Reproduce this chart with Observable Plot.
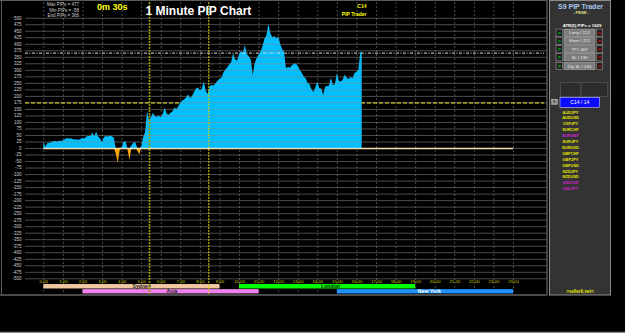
<!DOCTYPE html>
<html><head><meta charset="utf-8">
<script src="https://cdn.jsdelivr.net/npm/d3@7"></script>
<script src="https://cdn.jsdelivr.net/npm/@observablehq/plot@0.6"></script>
<style>
html,body{margin:0;padding:0;background:#000;}
#chart{position:relative;width:625px;height:333px;overflow:hidden;background:#000;}
svg{display:block;}
</style></head><body><div id="chart"></div>
<script>
// ---- data (hours since 0:00, PIPs) ----
const hours = [0.0,0.1,0.2,0.3,0.4,0.5,0.6,0.7,0.8,0.9,1.0,1.1,1.2,1.3,1.4,1.5,1.6,1.7,1.8,1.9,
 2.0,2.1,2.2,2.3,2.4,2.5,2.6,2.7,2.8,2.9,3.0,3.1,3.2,3.3,3.4,3.5,3.6,3.7,3.8,3.9,
 4.0,4.1,4.2,4.3,4.4,4.5,4.6,4.7,4.8,4.9,5.0,5.1,5.2,5.3,5.4,5.5,5.6,5.7,5.8,5.9,
 6.0,6.1,6.2,6.3,6.4,6.5,6.6,6.7,6.8,6.9,7.0,7.1,7.2,7.3,7.4,7.5,7.6,7.7,7.8,7.9,
 8.0,8.1,8.2,8.3,8.4,8.5,8.6,8.7,8.8,8.9,9.0,9.1,9.2,9.3,9.4,9.5,9.6,9.7,9.8,9.9,
 10.0,10.1,10.2,10.3,10.4,10.5,10.6,10.7,10.8,10.9,11.0,11.1,11.2,11.3,11.4,11.5,11.6,11.7,11.8,11.9,
 12.0,12.1,12.2,12.3,12.4,12.5,12.6,12.7,12.8,12.9,13.0,13.1,13.2,13.3,13.4,13.5,13.6,13.7,13.8,13.9,
 14.0,14.1,14.2,14.3,14.4,14.5,14.6,14.7,14.8,14.9,15.0,15.1,15.2,15.3,15.4,15.5,15.6,15.7,15.8,15.9,
 16.0,16.1,16.2,16.27];
const pips = [24,5,18,20,22,26,27,25,28,27,30,34,38,36,37,35,33,34,32,35,
 38,36,44,46,46,59,46,62,44,36,22,42,46,44,47,45,40,-20,-58,-10,
 2,24,26,-5,-46,10,20,22,-10,-24,5,40,60,141,108,118,135,122,120,125,
 118,130,154,132,128,135,140,155,150,160,175,182,186,195,205,192,200,215,228,232,
 222,228,255,220,207,238,242,240,248,258,265,270,290,300,310,320,330,364,340,335,
 360,372,365,395,360,352,340,280,325,345,358,370,390,420,432,477,440,425,430,420,
 428,400,380,370,305,312,308,318,322,325,315,300,290,275,268,250,245,225,215,232,
 255,230,228,203,235,238,240,270,242,245,288,258,255,262,282,270,265,272,268,288,
 292,300,370,366];

const hourTicks = [0,1,2,3,4,5,6,7,8,9,10,11,12,13,14,15,16,17,18,19,20,21,22,23,24];
const hourLabels = ["0:00","1:00","2:00","3:00","4:00","5:00","6:00","7:00","8:00","9:00","10:00","11:00","12:00",
 "13:00","14:00","15:00","16:00","17:00","18:00","19:00","20:00","21:00","22:00","23:00","23:00"];
const yTicks = [-500,-475,-450,-425,-400,-375,-350,-325,-300,-275,-250,-225,-200,-175,-150,-125,-100,-75,-50,-25,
 0,25,50,75,100,125,150,175,200,225,250,275,300,325,350,375,400,425,450,475,500];

const sessionNames = ["Sydney","Asia","London","New York"];
const sessionStart = [0,2,10,15];
const sessionEnd   = [9,11,19,24];
const sessionRow   = [0,1,0,1];
const sessionLabelAt = [5.0,6.55,14.65,19.7];
const sessionFill  = ["#f0c8a0","#ee82ee","#00ff00","#1e90ff"];
const sessionInk   = ["#222","#222","#111","#fff"];

const levelLine = 175;            // yellow dashed level
const markerHours = [5.4, 8.43];  // yellow dotted verticals
const markerColors = ["#9c9c00","#d6d600"];

const buttonLabels = ["Long / 212","Short / 212","TP / 407","SL / 130","Dly SL / 244"];
const pairNames = ["AUDJPY","AUDUSD","CHFJPY","EURCHF","EURGBP","EURJPY","EURUSD","GBPCHF","GBPJPY","GBPUSD","NZDJPY","NZDUSD","USDCHF","USDJPY"];
const pairColors = ["#e6e600","#e6e600","#e6e600","#e6e600","#d020d0","#e6e600","#e6e600","#e6e600","#e6e600","#e6e600","#e6e600","#e6e600","#d020d0","#d020d0"];

// ---- build ----
const data = hours.map((h,i)=>({h, v:pips[i]}));
const maxP = d3.max(pips), minP = d3.min(pips), endP = pips[pips.length-1];

const W = 625, H = 333;
const gridL = -0.935, gridR = 25.74;   // grid extents in hours
const vTop = 560, vBot = -564;         // vertical grid extents in PIPs
const sessY = [[-522,-539],[-541.5,-558]];
const FONT = "Liberation Sans, Arial, sans-serif";

const plot = Plot.plot({
  width: W, height: H,
  marginLeft: 43.3, marginRight: W - 513, marginTop: 17.7, marginBottom: H - 278.3,
  x: {domain: [0,24], axis: null},
  y: {domain: [-500,500], axis: null},
  style: {background: "#000", fontFamily: FONT, overflow: "visible"},
  marks: [
    Plot.ruleX(hourTicks, {x: d=>d, y1: vTop, y2: vBot, stroke: "#8a8a8a", strokeOpacity: 0.55, strokeDasharray: "2,2"}),
    Plot.rect(sessionNames, {x1: (d,i)=>sessionStart[i], x2: (d,i)=>sessionEnd[i],
      y1: (d,i)=>sessY[sessionRow[i]][0], y2: (d,i)=>sessY[sessionRow[i]][1], fill: (d,i)=>sessionFill[i]}),
    Plot.text(sessionNames, {x: (d,i)=>sessionLabelAt[i], y: (d,i)=>(sessY[sessionRow[i]][0]+sessY[sessionRow[i]][1])/2,
      text: d=>d, fill: (d,i)=>sessionInk[i], fontSize: 5.2, fontWeight: "bold"}),
    Plot.ruleY([levelLine], {x1: gridL, x2: gridR - 0.15, stroke: "#e0e000", strokeWidth: 1.1, strokeDasharray: "4,2"}),
    Plot.areaY(data, {x: "h", y1: 0, y2: d=>Math.max(0,d.v), fill: "#00bfff"}),
    Plot.areaY(data, {x: "h", y1: 0, y2: d=>Math.min(0,d.v), fill: "#ffa500"}),
    Plot.ruleY(yTicks, {y: d=>d, x1: gridL, x2: gridR, stroke: "#8a8a8a", strokeOpacity: 0.55}),
    Plot.ruleX([markerHours[0]], {y1: vTop, y2: vBot, stroke: markerColors[0], strokeWidth: 1.6, strokeDasharray: "2,1"}),
    Plot.ruleX([markerHours[1]], {y1: vTop, y2: vBot, stroke: markerColors[1], strokeWidth: 1, strokeDasharray: "2,1"}),
    Plot.ruleY([0], {x1: 0, x2: 24, stroke: "#f5deb3", strokeWidth: 1.5}),
    Plot.ruleY([endP], {x1: gridL, x2: gridR - 0.15, stroke: "#dddddd", strokeWidth: 1, strokeDasharray: "3,1.5,1,1.5"}),
    Plot.text(yTicks, {x: -1.14, y: d=>d, text: d=>String(d), textAnchor: "end", fill: "#cfcfcf", fontSize: 4.5}),
    Plot.text(hourTicks, {x: d=>d, y: -511, text: (d,i)=>hourLabels[i], fill: "#cccc00", fontSize: 4.3})
  ]
});
plot.style.position = "absolute"; plot.style.left = "0"; plot.style.top = "0";
document.getElementById("chart").appendChild(plot);

// ---- chrome: frame, header, side panel ----
const svg = d3.select(plot);
const g = svg.append("g").attr("font-family", FONT);
function line(x1,y1,x2,y2,c,w){ g.append("line").attr("x1",x1).attr("y1",y1).attr("x2",x2).attr("y2",y2).attr("stroke",c).attr("stroke-width",w||1); }
function txt(x,y,s,o){ const t=g.append("text").attr("x",x).attr("y",y).attr("dy","0.35em").text(s)
  .attr("fill",o.fill).attr("font-size",o.size).attr("text-anchor",o.anchor||"middle");
  if(o.bold) t.attr("font-weight","bold"); return t; }
function box(x,y,w,h,f,s,sw){ g.append("rect").attr("x",x).attr("y",y).attr("width",w).attr("height",h).attr("fill",f).attr("stroke",s||"none").attr("stroke-width",sw||0.7); }

line(0,0.5,547,0.5,"#5c5c5c",1);
line(1.5,0,1.5,295,"#5c5c5c",1);
line(547,0,547,295,"#6a6a6a",1.2);
line(0,295,547,295,"#4a4a4a",2);
line(0,332.3,625,332.3,"#8a8a8a",1.2);

txt(79,4.7,`Max PIPs = ${maxP}`,{fill:"#cfcfcf",size:4.5,anchor:"end"});
txt(79,10,`Min PIPs = ${minP}`,{fill:"#cfcfcf",size:4.5,anchor:"end"});
txt(79,15.3,`End PIPs = ${endP}`,{fill:"#cfcfcf",size:4.5,anchor:"end"});
txt(97,7,"0m 30s",{fill:"#ffff00",size:9,anchor:"start",bold:true});
txt(145.5,11,"1 Minute PIP Chart",{fill:"#ffffff",size:12,anchor:"start",bold:true});
txt(366.5,6.7,"C14",{fill:"#ffff00",size:5,anchor:"end",bold:true});
txt(366.5,14.3,"PIP Trader",{fill:"#ffff00",size:5,anchor:"end",bold:true});

// panel
box(549.5,0.5,61,294.5,"#333333","#8c8c8c",1);
txt(580.5,6.8,"S9 PIP Trader",{fill:"#a8c8ee",size:7,bold:true});
txt(581,12.8,"- FIDMI -",{fill:"#e6e68a",size:4,bold:true});
txt(582,25,"ATR(5) PIPs = 1629",{fill:"#ffffff",size:4.3,bold:true});
const rowY = [32.7,40.7,49.3,57.3,66];
buttonLabels.forEach((b,i)=>{
  const y = rowY[i]-3.6;
  box(556,y,6.5,7.2,"#202020","#9a9a9a",0.6);
  txt(559.3,rowY[i],">",{fill:"#00cc00",size:5.5,bold:true});
  box(564,y,31,7.2,"#7c7c7c","#b0b0b0",0.6);
  txt(579.5,rowY[i],b,{fill:"#eeeeee",size:4.4});
  box(596.5,y,6.2,7.2,"#202020","#9a9a9a",0.6);
  txt(599.6,rowY[i],"<",{fill:"#ee0000",size:5.5,bold:true});
});
box(560.7,82.7,20.3,14,"#2c2c2c","#5a5a5a",0.7);
box(581,82.7,26.7,14,"#2c2c2c","#5a5a5a",0.7);
box(551.7,99.3,5.6,5,"#9a9a9a","#cccccc",0.5);
txt(554.5,101.8,"E",{fill:"#333",size:3.5,bold:true});
box(560,97.3,39.5,10,"#0a0aff","#c8c8ff",0.6);
txt(579.8,102.3,"C14 / 14",{fill:"#ffffff",size:5});
pairNames.forEach((p,i)=>txt(570.5,112.2+i*5.9,p,{fill:pairColors[i],size:3.9,bold:true}));
txt(580,291.5,">seller9.net<",{fill:"#e6e600",size:4.5,bold:true});
</script></body></html>
